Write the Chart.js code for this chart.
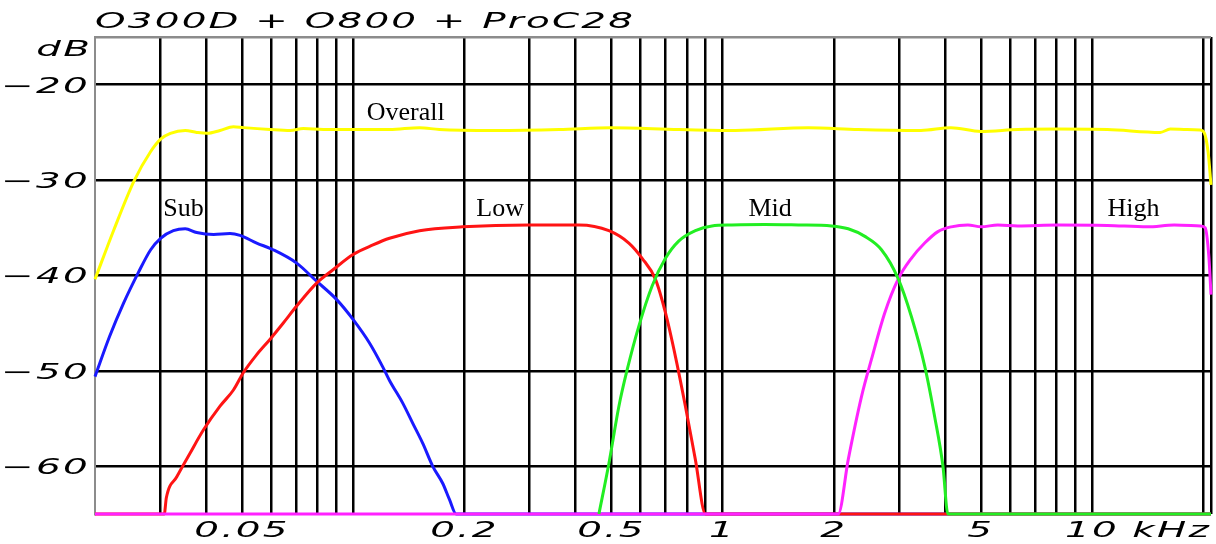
<!DOCTYPE html>
<html>
<head>
<meta charset="utf-8">
<title>O300D + O800 + ProC28</title>
<script src="https://cdn.jsdelivr.net/npm/chart.js@4"></script>
<style>
  html, body { margin: 0; padding: 0; background: #fff; }
  canvas { display: block; }
</style>
</head>
<body>
<canvas id="response" width="1216" height="544"></canvas>
<script>
// Frequency response of the three-way system and its bands.
// Frequencies in kHz, levels in dB.
const overallFreq = [0.02, 0.0225, 0.0255, 0.0283, 0.0301, 0.032, 0.0351, 0.0377, 0.0402, 0.0436, 0.0474, 0.0505, 0.0596, 0.0675, 0.0733, 0.083, 0.1256, 0.1512, 0.1712, 0.2409, 0.3608, 0.4985, 0.7606, 1.084, 1.707, 2.328, 3.444, 4.151, 5.002, 6.295, 8.07, 11.01, 15.3, 16.29, 18.1, 19.63, 20.12, 20.63, 21];
const overallDb   = [-40.4, -35.2, -30.1, -27.0, -25.7, -25.1, -24.8, -25.0, -25.1, -24.8, -24.4, -24.5, -24.7, -24.8, -24.6, -24.7, -24.7, -24.5, -24.7, -24.8, -24.7, -24.5, -24.7, -24.8, -24.5, -24.7, -24.8, -24.5, -24.9, -24.7, -24.65, -24.7, -25.0, -24.65, -24.7, -24.75, -25.0, -27.1, -30.5];

const subFreq = [0.02, 0.0219, 0.0239, 0.0262, 0.0283, 0.0301, 0.0326, 0.0351, 0.0377, 0.0419, 0.0464, 0.0494, 0.0548, 0.0607, 0.0703, 0.0796, 0.0901, 0.0999, 0.1108, 0.1203, 0.1254, 0.1363, 0.145, 0.1543, 0.1642, 0.1748, 0.1823, 0.19, 21];
const subDb   = [-50.6, -46.4, -42.9, -39.7, -37.3, -36.1, -35.3, -35.1, -35.5, -35.7, -35.6, -35.8, -36.6, -37.3, -38.7, -40.6, -42.5, -44.6, -47.1, -49.6, -51.0, -53.4, -55.5, -57.6, -60.0, -61.8, -63.5, -65, -65];

const lowFreq = [0.02, 0.0308, 0.0312, 0.0333, 0.0362, 0.0393, 0.0436, 0.0474, 0.0504, 0.0548, 0.0595, 0.0646, 0.0703, 0.0796, 0.0882, 0.0999, 0.1131, 0.1254, 0.1512, 0.1979, 0.2995, 0.4087, 0.4923, 0.5575, 0.6056, 0.6582, 0.7004, 0.7454, 0.7931, 0.844, 0.899, 21];
const lowDb   = [-65, -65, -63.3, -61.1, -58.6, -56.2, -53.7, -52.0, -50.2, -48.3, -46.7, -45.0, -43.2, -40.8, -39.4, -37.8, -36.8, -36.1, -35.3, -34.9, -34.7, -34.7, -35.3, -36.6, -38.2, -40.4, -43.9, -48.5, -53.7, -59.3, -65, -65];

const midFreq = [0.4626, 0.4923, 0.524, 0.5515, 0.5934, 0.6445, 0.7004, 0.7606, 0.844, 0.9357, 1.0595, 1.3, 1.6036, 1.9725, 2.1885, 2.4277, 2.692, 2.985, 3.244, 3.525, 3.751, 3.95, 4.074, 21];
const midDb   = [-65, -59.7, -53.7, -49.9, -45.3, -41.1, -38.2, -36.4, -35.3, -34.8, -34.7, -34.65, -34.7, -34.8, -35.1, -35.9, -37.3, -40.3, -44.3, -49.5, -54.8, -60.0, -65, -65];

const highFreq = [0.02, 2.056, 2.1885, 2.377, 2.529, 2.749, 2.985, 3.244, 3.525, 3.828, 4.158, 4.613, 5.011, 5.559, 6.295, 8.07, 11.01, 14.12, 16.7, 19.67, 20.25, 20.72, 21];
const highDb   = [-65, -65, -59.3, -52.7, -48.8, -43.9, -40.4, -38.2, -36.6, -35.4, -34.9, -34.7, -34.9, -34.7, -34.8, -34.7, -34.75, -34.9, -34.7, -34.8, -35.0, -38.0, -42.0];

// Axis grid and tick labels
const gridFreqs = [0.03, 0.04, 0.05, 0.06, 0.07, 0.08, 0.09, 0.1, 0.2, 0.3, 0.4, 0.5, 0.6, 0.7, 0.8, 0.9, 1, 2, 3, 4, 5, 6, 7, 8, 9, 10, 20, 21];
const freqLabelValues = [0.05, 0.2, 0.5, 1, 2, 5, 10];
const freqLabelTexts  = ['0.05', '0.2', '0.5', '1', '2', '5', '10'];
const dbGrid       = [-60, -50, -40, -30, -20, -15];
const dbLabelTexts = ['\u221260', '\u221250', '\u221240', '\u221230', '\u221220', ''];

// Curve names placed in data space (left edge, baseline)
const curveNames    = ['Overall', 'Sub', 'Low', 'Mid', 'High'];
const curveNameFreq = [0.1088, 0.0306, 0.2154, 1.175, 11.01];
const curveNameDb   = [-23.65, -33.77, -33.77, -33.77, -33.77];

const AXIS_FAMILY = 'DejaVu Sans';
const axisFont = { family: AXIS_FAMILY, style: 'italic', weight: 'normal', size: 21, lineHeight: 1 };

function series(freq, db) {
  return freq.map((f, i) => ({ x: f, y: db[i] }));
}

// Axis lettering is drawn horizontally widened, plotter style,
// and nudged so that 'middle' sits on the digit centre.
const widePlotterText = {
  id: 'widePlotterText',
  beforeInit(chart) {
    const ctx = chart.ctx;
    const plain = ctx.fillText.bind(ctx);
    ctx.fillText = function (text, x, y, maxWidth) {
      if (this.font.indexOf(AXIS_FAMILY) < 0) {
        return maxWidth === undefined ? plain(text, x, y) : plain(text, x, y, maxWidth);
      }
      this.save();
      this.translate(x, y + 2.5);
      this.scale(1.85, 1);
      this.letterSpacing = '1.2px';
      plain(text, 0, 0);
      this.restore();
    };
  }
};

const curveLabels = {
  id: 'curveLabels',
  afterDatasetsDraw(chart) {
    const { ctx, scales: { x, y } } = chart;
    ctx.save();
    ctx.fillStyle = '#000';
    ctx.font = '26px "Liberation Serif"';
    ctx.textAlign = 'left';
    ctx.textBaseline = 'alphabetic';
    curveNames.forEach((name, i) => {
      ctx.fillText(name, x.getPixelForValue(curveNameFreq[i]), y.getPixelForValue(curveNameDb[i]));
    });
    // unit of the level axis, above its top label
    ctx.font = 'italic 21px "' + AXIS_FAMILY + '"';
    ctx.textAlign = 'right';
    ctx.textBaseline = 'middle';
    ctx.fillText('dB', y.right - 3, y.getPixelForValue(-16.2));
    ctx.restore();
  }
};

const lineStyle = { borderWidth: 3, pointRadius: 0, fill: false, clip: false, cubicInterpolationMode: 'monotone' };

new Chart(document.getElementById('response'), {
  type: 'line',
  data: {
    datasets: [
      Object.assign({ label: 'Overall', data: series(overallFreq, overallDb), borderColor: '#ffff00' }, lineStyle),
      Object.assign({ label: 'Mid',     data: series(midFreq, midDb),         borderColor: '#22ee22' }, lineStyle),
      Object.assign({ label: 'High',    data: series(highFreq, highDb),       borderColor: '#ff22ff' }, lineStyle),
      Object.assign({ label: 'Low',     data: series(lowFreq, lowDb),         borderColor: '#ff1414' }, lineStyle),
      Object.assign({ label: 'Sub',     data: series(subFreq, subDb),         borderColor: '#1a1aff' }, lineStyle)
    ]
  },
  options: {
    responsive: false,
    devicePixelRatio: 1,
    animation: false,
    layout: { padding: { left: 0, right: 2, top: 0, bottom: 0 } },
    plugins: {
      legend: { display: false },
      tooltip: { enabled: false },
      title: {
        display: true,
        text: 'O300D + O800 + ProC28',
        align: 'start',
        fullSize: false,
        color: '#000',
        font: axisFont,
        padding: { top: 9.5, bottom: 6.5 }
      }
    },
    scales: {
      x: {
        type: 'logarithmic',
        min: 0.02,
        max: 21,
        afterBuildTicks: (s) => { s.ticks = gridFreqs.map(v => ({ value: v })); },
        afterFit: (s) => { s.height = 30; },
        ticks: {
          autoSkip: false, maxRotation: 0, minRotation: 0, padding: 5,
          color: '#000', font: axisFont,
          callback: (v) => { const i = freqLabelValues.indexOf(v); return i < 0 ? '' : freqLabelTexts[i]; }
        },
        grid: { drawTicks: false, color: '#000', lineWidth: 2.5 },
        border: { display: false },
        title: { display: true, text: 'kHz', align: 'end', color: '#000', font: axisFont, padding: { top: 0, bottom: 4 } }
      },
      y: {
        type: 'linear',
        min: -65,
        max: -15,
        afterBuildTicks: (s) => { s.ticks = dbGrid.map(v => ({ value: v })); },
        afterFit: (s) => { s.width = 95; },
        ticks: {
          padding: 5, color: '#000', font: axisFont,
          callback: (v) => { const i = dbGrid.indexOf(v); return i < 0 ? '' : dbLabelTexts[i]; }
        },
        grid: {
          drawTicks: false, lineWidth: 2.5,
          color: (c) => (c.tick && c.tick.value === -15 ? '#8c8c8c' : '#000')
        },
        border: { display: true, color: '#8c8c8c', width: 2 }
      }
    }
  },
  plugins: [widePlotterText, curveLabels]
});
</script>
</body>
</html>
